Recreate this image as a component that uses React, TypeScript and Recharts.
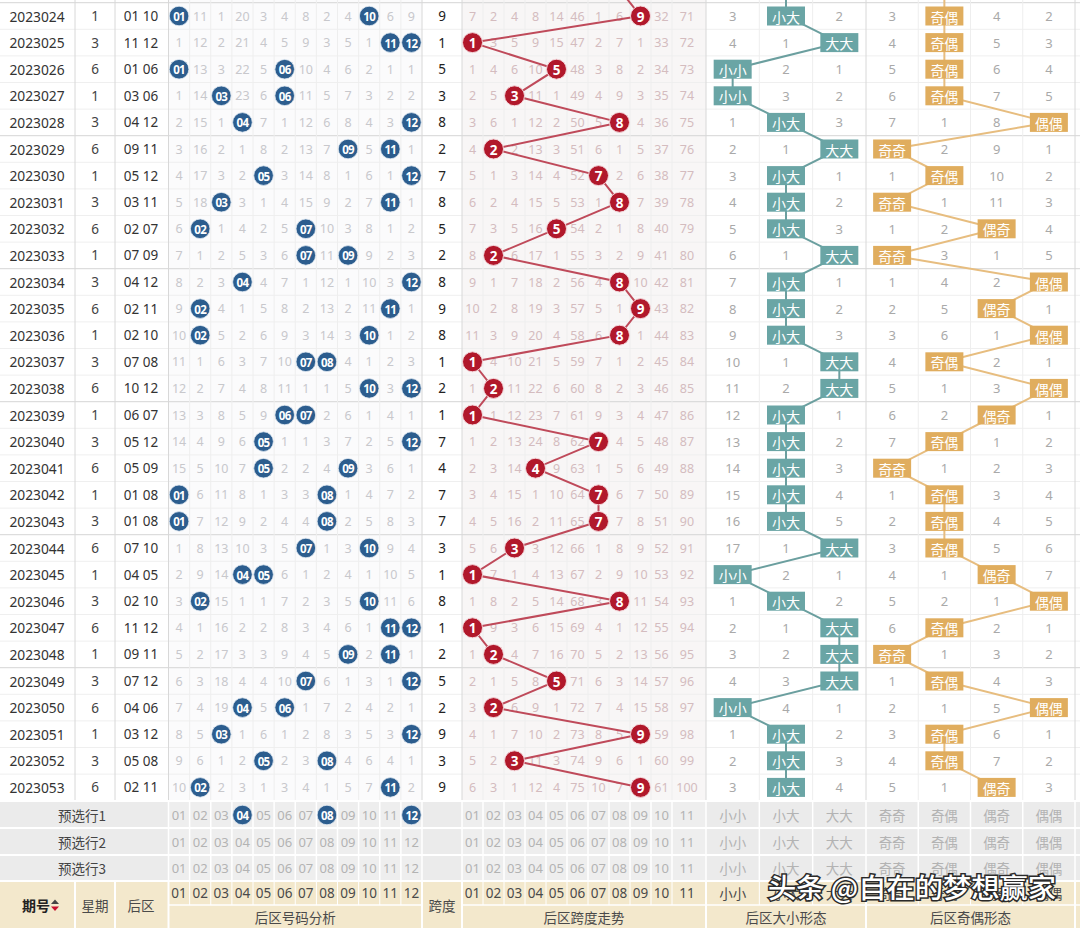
import React from 'react';
import { ScatterChart, Scatter, XAxis, YAxis, ReferenceArea, ReferenceLine } from 'recharts';

// ---------------- DATA ----------------
const periods = [
  '2023024', '2023025', '2023026', '2023027', '2023028', '2023029', '2023030', '2023031', '2023032', '2023033',
  '2023034', '2023035', '2023036', '2023037', '2023038', '2023039', '2023040', '2023041', '2023042', '2023043',
  '2023044', '2023045', '2023046', '2023047', '2023048', '2023049', '2023050', '2023051', '2023052', '2023053',
];
const weekdays = [1, 3, 6, 1, 3, 6, 1, 3, 6, 1, 3, 6, 1, 3, 6, 1, 3, 6, 1, 3, 6, 1, 3, 6, 1, 3, 6, 1, 3, 6];
const backNumbers = [
  [1, 10], [11, 12], [1, 6], [3, 6], [4, 12], [9, 11], [5, 12], [3, 11], [2, 7], [7, 9],
  [4, 12], [2, 11], [2, 10], [7, 8], [10, 12], [6, 7], [5, 12], [5, 9], [1, 8], [1, 8],
  [7, 10], [4, 5], [2, 10], [11, 12], [9, 11], [7, 12], [4, 6], [3, 12], [5, 8], [2, 11],
];
// missing counts per back number 01..12 (0 = drawn this period)
const numberMissing = [
  [0, 11, 1, 20, 3, 4, 8, 2, 4, 0, 6, 9],
  [1, 12, 2, 21, 4, 5, 9, 3, 5, 1, 0, 0],
  [0, 13, 3, 22, 5, 0, 10, 4, 6, 2, 1, 1],
  [1, 14, 0, 23, 6, 0, 11, 5, 7, 3, 2, 2],
  [2, 15, 1, 0, 7, 1, 12, 6, 8, 4, 3, 0],
  [3, 16, 2, 1, 8, 2, 13, 7, 0, 5, 0, 1],
  [4, 17, 3, 2, 0, 3, 14, 8, 1, 6, 1, 0],
  [5, 18, 0, 3, 1, 4, 15, 9, 2, 7, 0, 1],
  [6, 0, 1, 4, 2, 5, 0, 10, 3, 8, 1, 2],
  [7, 1, 2, 5, 3, 6, 0, 11, 0, 9, 2, 3],
  [8, 2, 3, 0, 4, 7, 1, 12, 1, 10, 3, 0],
  [9, 0, 4, 1, 5, 8, 2, 13, 2, 11, 0, 1],
  [10, 0, 5, 2, 6, 9, 3, 14, 3, 0, 1, 2],
  [11, 1, 6, 3, 7, 10, 0, 0, 4, 1, 2, 3],
  [12, 2, 7, 4, 8, 11, 1, 1, 5, 0, 3, 0],
  [13, 3, 8, 5, 9, 0, 0, 2, 6, 1, 4, 1],
  [14, 4, 9, 6, 0, 1, 1, 3, 7, 2, 5, 0],
  [15, 5, 10, 7, 0, 2, 2, 4, 0, 3, 6, 1],
  [0, 6, 11, 8, 1, 3, 3, 0, 1, 4, 7, 2],
  [0, 7, 12, 9, 2, 4, 4, 0, 2, 5, 8, 3],
  [1, 8, 13, 10, 3, 5, 0, 1, 3, 0, 9, 4],
  [2, 9, 14, 0, 0, 6, 1, 2, 4, 1, 10, 5],
  [3, 0, 15, 1, 1, 7, 2, 3, 5, 0, 11, 6],
  [4, 1, 16, 2, 2, 8, 3, 4, 6, 1, 0, 0],
  [5, 2, 17, 3, 3, 9, 4, 5, 0, 2, 0, 1],
  [6, 3, 18, 4, 4, 10, 0, 6, 1, 3, 1, 0],
  [7, 4, 19, 0, 5, 0, 1, 7, 2, 4, 2, 1],
  [8, 5, 0, 1, 6, 1, 2, 8, 3, 5, 3, 0],
  [9, 6, 1, 2, 0, 2, 3, 0, 4, 6, 4, 1],
  [10, 0, 2, 3, 1, 3, 4, 1, 5, 7, 0, 2],
];
const spans = [9, 1, 5, 3, 8, 2, 7, 8, 5, 2, 8, 9, 8, 1, 2, 1, 7, 4, 7, 7, 3, 1, 8, 1, 2, 5, 2, 9, 3, 9];
// missing counts per span value 1..11 (0 = this span)
const spanMissing = [
  [7, 2, 4, 8, 14, 46, 1, 6, 0, 32, 71],
  [0, 3, 5, 9, 15, 47, 2, 7, 1, 33, 72],
  [1, 4, 6, 10, 0, 48, 3, 8, 2, 34, 73],
  [2, 5, 0, 11, 1, 49, 4, 9, 3, 35, 74],
  [3, 6, 1, 12, 2, 50, 5, 0, 4, 36, 75],
  [4, 0, 2, 13, 3, 51, 6, 1, 5, 37, 76],
  [5, 1, 3, 14, 4, 52, 0, 2, 6, 38, 77],
  [6, 2, 4, 15, 5, 53, 1, 0, 7, 39, 78],
  [7, 3, 5, 16, 0, 54, 2, 1, 8, 40, 79],
  [8, 0, 6, 17, 1, 55, 3, 2, 9, 41, 80],
  [9, 1, 7, 18, 2, 56, 4, 0, 10, 42, 81],
  [10, 2, 8, 19, 3, 57, 5, 1, 0, 43, 82],
  [11, 3, 9, 20, 4, 58, 6, 0, 1, 44, 83],
  [0, 4, 10, 21, 5, 59, 7, 1, 2, 45, 84],
  [1, 0, 11, 22, 6, 60, 8, 2, 3, 46, 85],
  [0, 1, 12, 23, 7, 61, 9, 3, 4, 47, 86],
  [1, 2, 13, 24, 8, 62, 0, 4, 5, 48, 87],
  [2, 3, 14, 0, 9, 63, 1, 5, 6, 49, 88],
  [3, 4, 15, 1, 10, 64, 0, 6, 7, 50, 89],
  [4, 5, 16, 2, 11, 65, 0, 7, 8, 51, 90],
  [5, 6, 0, 3, 12, 66, 1, 8, 9, 52, 91],
  [0, 7, 1, 4, 13, 67, 2, 9, 10, 53, 92],
  [1, 8, 2, 5, 14, 68, 3, 0, 11, 54, 93],
  [0, 9, 3, 6, 15, 69, 4, 1, 12, 55, 94],
  [1, 0, 4, 7, 16, 70, 5, 2, 13, 56, 95],
  [2, 1, 5, 8, 0, 71, 6, 3, 14, 57, 96],
  [3, 0, 6, 9, 1, 72, 7, 4, 15, 58, 97],
  [4, 1, 7, 10, 2, 73, 8, 5, 0, 59, 98],
  [5, 2, 0, 11, 3, 74, 9, 6, 1, 60, 99],
  [6, 3, 1, 12, 4, 75, 10, 7, 0, 61, 100],
];
const sizeLabels = ['小小', '小大', '大大'];
const sizeMissing = [
  [3, 0, 2], [4, 1, 0], [0, 2, 1], [0, 3, 2], [1, 0, 3], [2, 1, 0], [3, 0, 1], [4, 0, 2], [5, 0, 3], [6, 1, 0],
  [7, 0, 1], [8, 0, 2], [9, 0, 3], [10, 1, 0], [11, 2, 0], [12, 0, 1], [13, 0, 2], [14, 0, 3], [15, 0, 4], [16, 0, 5],
  [17, 1, 0], [0, 2, 1], [1, 0, 2], [2, 1, 0], [3, 2, 0], [4, 3, 0], [0, 4, 1], [1, 0, 2], [2, 0, 3], [3, 0, 4],
];
const oddLabels = ['奇奇', '奇偶', '偶奇', '偶偶'];
const oddMissing = [
  [3, 0, 4, 2], [4, 0, 5, 3], [5, 0, 6, 4], [6, 0, 7, 5], [7, 1, 8, 0], [0, 2, 9, 1], [1, 0, 10, 2], [0, 1, 11, 3], [1, 2, 0, 4], [0, 3, 1, 5],
  [1, 4, 2, 0], [2, 5, 0, 1], [3, 6, 1, 0], [4, 0, 2, 1], [5, 1, 3, 0], [6, 2, 0, 1], [7, 0, 1, 2], [0, 1, 2, 3], [1, 0, 3, 4], [2, 0, 4, 5],
  [3, 0, 5, 6], [4, 1, 0, 7], [5, 2, 1, 0], [6, 0, 2, 1], [0, 1, 3, 2], [1, 0, 4, 3], [2, 1, 5, 0], [3, 0, 6, 1], [4, 0, 7, 2], [5, 1, 0, 3],
];
// the trend lines enter from the (cut off) previous period
const prevSpan = 8;
const prevSize = 1;
const prevOdd = 1;
const numberLabels = ['01', '02', '03', '04', '05', '06', '07', '08', '09', '10', '11', '12'];
const spanLabels = ['01', '02', '03', '04', '05', '06', '07', '08', '09', '10', '11'];
const preselectNames = ['预选行1', '预选行2', '预选行3'];
const preselectHits = [[4, 8, 12], [], []];
const fixedHeaders = ['期号', '星期', '后区', '跨度'];
const groupTitles = ['后区号码分析', '后区跨度走势', '后区大小形态', '后区奇偶形态'];
const watermark = '头条 @自在的梦想赢家';

// ---------------- LAYOUT ----------------
const W = 1080;
const H = 928;
const ROW_PX = 26.6;
const ROW0 = 16;
const ry = (px: number) => (px - ROW0) / ROW_PX;
const Y_DOMAIN: [number, number] = [ry(0), ry(H)];
const N = periods.length;

const X_PERIOD = 37;
const X_WEEK = 95;
const X_BACK = 141;
const X_SPAN = 442;
const X_PRE_LABEL = 82;
const MAIN_EDGES = [75, 115, 168.5, 422, 462, 706, 866, 1075];
const numEdge = (k: number) => 168.5 + 21.125 * k;
const numX = (j: number) => numEdge(j + 0.5);
const SPAN_EDGES = [462, 483, 504, 525, 546, 567, 588, 609, 630, 651, 672, 706];
const spanX = (j: number) => (SPAN_EDGES[j] + SPAN_EDGES[j + 1]) / 2 - (j === 10 ? 2 : 0);
const sizeEdge = (k: number) => 706 + (160 / 3) * k;
const sizeX = (j: number) => sizeEdge(j + 0.5);
const oddEdge = (k: number) => 866 + 52.25 * k;
const oddX = (j: number) => oddEdge(j + 0.5);

const DATA_BOT = N - 0.5;
const PRE_ROWS = [ry(815), ry(841.5), ry(868)];
const PRE_EDGES = [ry(801), ry(828), ry(855), ry(881)];
const HEAD_TOP = ry(881);
const HEAD_MID = ry(905);
const HEAD_BOT = ry(H);
const HEAD_ROW1 = ry(893);
const HEAD_ROW2 = ry(916.5);
const HEAD_MERGED = ry(905);

const NUM_FONT = "'Noto Sans', 'Noto Sans CJK SC', sans-serif";
const CJK_FONT = "'Noto Sans CJK SC', 'Noto Sans', sans-serif";

const pad = (n: number) => (n < 10 ? '0' + n : String(n));

// ---------------- POINTS ----------------
type Pt = { x: number; y: number; text?: string; hidden?: boolean };

const periodPts: Pt[] = periods.map((t, i) => ({ x: X_PERIOD, y: i, text: t }));
const weekPts: Pt[] = weekdays.map((w, i) => ({ x: X_WEEK, y: i, text: String(w) }));
const backPts: Pt[] = backNumbers.map((p, i) => ({ x: X_BACK, y: i, text: p.map(pad).join(' ') }));
const spanValPts: Pt[] = spans.map((s, i) => ({ x: X_SPAN, y: i, text: String(s) }));

const numMissPts: Pt[] = [];
const numHitPts: Pt[] = [];
numberMissing.forEach((row, i) =>
  row.forEach((v, j) => {
    if (v === 0) numHitPts.push({ x: numX(j), y: i, text: numberLabels[j] });
    else numMissPts.push({ x: numX(j), y: i, text: String(v) });
  }),
);
preselectHits.forEach((hits, r) =>
  hits.forEach((h) => numHitPts.push({ x: numX(h - 1), y: PRE_ROWS[r], text: numberLabels[h - 1] })),
);

const spanMissPts: Pt[] = [];
spanMissing.forEach((row, i) =>
  row.forEach((v, j) => {
    if (v !== 0) spanMissPts.push({ x: spanX(j), y: i, text: String(v) });
  }),
);
const spanBallPts: Pt[] = [
  { x: spanX(prevSpan - 1), y: -1, hidden: true },
  ...spans.map((s, i) => ({ x: spanX(s - 1), y: i, text: String(s) })),
];

const formMissPts: Pt[] = [];
sizeMissing.forEach((row, i) =>
  row.forEach((v, j) => {
    if (v !== 0) formMissPts.push({ x: sizeX(j), y: i, text: String(v) });
  }),
);
oddMissing.forEach((row, i) =>
  row.forEach((v, j) => {
    if (v !== 0) formMissPts.push({ x: oddX(j), y: i, text: String(v) });
  }),
);
const sizeBoxPts: Pt[] = [
  { x: sizeX(prevSize), y: -1, hidden: true },
  ...sizeMissing.map((row, i) => {
    const k = row.indexOf(0);
    return { x: sizeX(k), y: i, text: sizeLabels[k] };
  }),
];
const oddBoxPts: Pt[] = [
  { x: oddX(prevOdd), y: -1, hidden: true },
  ...oddMissing.map((row, i) => {
    const k = row.indexOf(0);
    return { x: oddX(k), y: i, text: oddLabels[k] };
  }),
];

// pre-selection rows and header
const preLabelPts: Pt[] = preselectNames.map((t, r) => ({ x: X_PRE_LABEL, y: PRE_ROWS[r], text: t }));
const preNumPts: Pt[] = [];
const preCjkPts: Pt[] = [];
PRE_ROWS.forEach((y, r) => {
  numberLabels.forEach((t, j) => {
    if (!preselectHits[r].includes(j + 1)) preNumPts.push({ x: numX(j), y, text: t });
  });
  spanLabels.forEach((t, j) => preNumPts.push({ x: spanX(j), y, text: t }));
  sizeLabels.forEach((t, j) => preCjkPts.push({ x: sizeX(j), y, text: t }));
  oddLabels.forEach((t, j) => preCjkPts.push({ x: oddX(j), y, text: t }));
});
const headNumPts: Pt[] = [
  ...numberLabels.map((t, j) => ({ x: numX(j), y: HEAD_ROW1, text: t })),
  ...spanLabels.map((t, j) => ({ x: spanX(j), y: HEAD_ROW1, text: t })),
];
const headCjkPts: Pt[] = [
  ...sizeLabels.map((t, j) => ({ x: sizeX(j), y: HEAD_ROW1, text: t })),
  ...oddLabels.map((t, j) => ({ x: oddX(j), y: HEAD_ROW1, text: t })),
  { x: (168.5 + 422) / 2, y: HEAD_ROW2, text: groupTitles[0] },
  { x: (462 + 706) / 2, y: HEAD_ROW2, text: groupTitles[1] },
  { x: (706 + 866) / 2, y: HEAD_ROW2, text: groupTitles[2] },
  { x: (866 + 1075) / 2, y: HEAD_ROW2, text: groupTitles[3] },
  { x: X_WEEK, y: HEAD_MERGED, text: fixedHeaders[1] },
  { x: X_BACK, y: HEAD_MERGED, text: fixedHeaders[2] },
  { x: X_SPAN, y: HEAD_MERGED, text: fixedHeaders[3] },
];
const headBoldPts: Pt[] = [{ x: 36, y: HEAD_MERGED, text: fixedHeaders[0] }];
const sortIconPts: Pt[] = [{ x: 55, y: HEAD_MERGED }];
const watermarkPts: Pt[] = [{ x: 912, y: ry(886), text: watermark }];

// ---------------- GRID ----------------
type Seg = { x1: number; y1: number; x2: number; y2: number; c: string; w: number };
const segs: Seg[] = [];
const yTopEdge = Y_DOMAIN[0];
for (let k = -1; k < N; k++) {
  const yb = k + 0.5;
  const major = k === -1 || (k + 1) % 5 === 0;
  segs.push({ x1: 0, x2: W, y1: yb, y2: yb, c: major ? '#d6d6d6' : '#efefef', w: 1 });
}
const minorX: number[] = [];
for (let k = 1; k < 12; k++) minorX.push(numEdge(k));
for (let k = 1; k < 11; k++) minorX.push(SPAN_EDGES[k]);
for (let k = 1; k < 3; k++) minorX.push(sizeEdge(k));
for (let k = 1; k < 4; k++) minorX.push(oddEdge(k));
minorX.forEach((x) => segs.push({ x1: x, x2: x, y1: yTopEdge, y2: DATA_BOT, c: '#eeeeee', w: 1 }));
MAIN_EDGES.forEach((x) => segs.push({ x1: x, x2: x, y1: yTopEdge, y2: DATA_BOT, c: '#d8d8d8', w: 1 }));
// preselect rows: white separators
PRE_EDGES.forEach((y) => segs.push({ x1: 0, x2: W, y1: y, y2: y, c: '#ffffff', w: 2 }));
[...minorX, 168.5, 422, 462, 706, 866, 1075].forEach((x) =>
  segs.push({ x1: x, x2: x, y1: PRE_EDGES[0], y2: PRE_EDGES[3], c: '#ffffff', w: 1.5 }),
);
// header separators
MAIN_EDGES.slice(0, 7).forEach((x) => segs.push({ x1: x, x2: x, y1: HEAD_TOP, y2: HEAD_BOT, c: '#ffffff', w: 2 }));
minorX.forEach((x) => segs.push({ x1: x, x2: x, y1: HEAD_TOP, y2: HEAD_MID, c: '#ffffff', w: 1 }));
segs.push({ x1: 168.5, x2: 422, y1: HEAD_MID, y2: HEAD_MID, c: '#ffffff', w: 1.5 });
segs.push({ x1: 462, x2: W, y1: HEAD_MID, y2: HEAD_MID, c: '#ffffff', w: 1.5 });
segs.push({ x1: 1075, x2: 1075, y1: HEAD_TOP, y2: HEAD_BOT, c: '#ffffff', w: 2 });

type Area = { x1: number; x2: number; y1: number; y2: number; fill: string };
const areas: Area[] = [
  { x1: 168.5, x2: 422, y1: yTopEdge, y2: DATA_BOT, fill: '#fbfbfc' },
  { x1: 462, x2: 706, y1: yTopEdge, y2: DATA_BOT, fill: '#f8f6f6' },
  { x1: 0, x2: W, y1: PRE_EDGES[0], y2: PRE_EDGES[3], fill: '#ebebeb' },
  { x1: 168.5, x2: 422, y1: PRE_EDGES[0], y2: PRE_EDGES[3], fill: '#eeeeee' },
  { x1: 462, x2: 706, y1: PRE_EDGES[0], y2: PRE_EDGES[3], fill: '#eeeeee' },
  { x1: 0, x2: W, y1: HEAD_TOP, y2: HEAD_BOT, fill: '#f3e8cc' },
];

// ---------------- SHAPES ----------------
const textShape =
  (fill: string, fontSize: number, fontWeight: number = 400, fontFamily: string = NUM_FONT) =>
  (props: any) => {
    const { cx, cy, payload } = props;
    if (cx == null || cy == null || !payload) return <g />;
    return (
      <text
        x={cx}
        y={cy}
        textAnchor="middle"
        dominantBaseline="central"
        fill={fill}
        fontSize={fontSize}
        fontWeight={fontWeight}
        fontFamily={fontFamily}
      >
        {payload.text}
      </text>
    );
  };

const blueBall = (props: any) => {
  const { cx, cy, payload } = props;
  return (
    <g>
      <circle cx={cx} cy={cy} r={9.8} fill="#2c5d8e" stroke="#dfe8f1" strokeWidth={0.8} />
      <text
        x={cx}
        y={cy + 0.5}
        textAnchor="middle"
        dominantBaseline="central"
        fill="#ffffff"
        fontSize={11.5}
        fontWeight={700}
        fontFamily={NUM_FONT}
        letterSpacing={-0.7}
      >
        {payload.text}
      </text>
    </g>
  );
};

const redBall = (props: any) => {
  const { cx, cy, payload } = props;
  if (!payload || payload.hidden) return <g />;
  return (
    <g>
      <circle cx={cx} cy={cy} r={10} fill="#b1182b" stroke="#f3d6da" strokeWidth={1} />
      <text
        x={cx}
        y={cy + 0.5}
        textAnchor="middle"
        dominantBaseline="central"
        fill="#ffffff"
        fontSize={13.5}
        fontWeight={700}
        fontFamily={NUM_FONT}
      >
        {payload.text}
      </text>
    </g>
  );
};

const boxShape = (fill: string) => (props: any) => {
  const { cx, cy, payload } = props;
  if (!payload || payload.hidden) return <g />;
  return (
    <g>
      <rect x={cx - 19} y={cy - 9.5} width={38} height={19} fill={fill} />
      <text
        x={cx}
        y={cy + 0.5}
        textAnchor="middle"
        dominantBaseline="central"
        fill="#ffffff"
        fontSize={14}
        fontFamily={CJK_FONT}
      >
        {payload.text}
      </text>
    </g>
  );
};

const sortIcon = (props: any) => {
  const { cx, cy } = props;
  return (
    <g>
      <path d={`M${cx - 4},${cy - 1} L${cx + 4},${cy - 1} L${cx},${cy - 5.5} Z`} fill="#444" />
      <path d={`M${cx - 4},${cy + 1.5} L${cx + 4},${cy + 1.5} L${cx},${cy + 6} Z`} fill="#c8102e" />
    </g>
  );
};

const watermarkShape = (props: any) => {
  const { cx, cy, payload } = props;
  return (
    <text
      x={cx}
      y={cy}
      textAnchor="middle"
      dominantBaseline="central"
      fill="#ffffff"
      stroke="#2a2a2a"
      strokeWidth={3}
      paintOrder="stroke"
      fontSize={27}
      fontWeight={500}
      fontFamily={CJK_FONT}
      textLength={288}
      lengthAdjust="spacingAndGlyphs"
    >
      {payload.text}
    </text>
  );
};

export default function App() {
  return (
    <div style={{ width: W, height: H, background: '#ffffff' }}>
      <style>{'body{margin:0;}'}</style>
      <ScatterChart width={W} height={H} margin={{ top: 0, right: 0, bottom: 0, left: 0 }}>
        <XAxis type="number" dataKey="x" domain={[0, W]} hide allowDataOverflow />
        <YAxis type="number" dataKey="y" domain={Y_DOMAIN} reversed hide allowDataOverflow />
        {areas.map((a, i) => (
          <ReferenceArea
            key={'a' + i}
            x1={a.x1}
            x2={a.x2}
            y1={a.y1}
            y2={a.y2}
            fill={a.fill}
            fillOpacity={1}
            stroke="none"
            ifOverflow="visible"
          />
        ))}
        {segs.map((s, i) => (
          <ReferenceLine
            key={'s' + i}
            segment={[
              { x: s.x1, y: s.y1 },
              { x: s.x2, y: s.y2 },
            ]}
            stroke={s.c}
            strokeWidth={s.w}
            ifOverflow="visible"
          />
        ))}
        <Scatter data={periodPts} shape={textShape('#333333', 13.8)} isAnimationActive={false} />
        <Scatter data={weekPts} shape={textShape('#444444', 13.5)} isAnimationActive={false} />
        <Scatter data={backPts} shape={textShape('#333333', 13.5)} isAnimationActive={false} />
        <Scatter data={spanValPts} shape={textShape('#222222', 13.5)} isAnimationActive={false} />
        <Scatter data={numMissPts} shape={textShape('#c8c8cc', 12.5)} isAnimationActive={false} />
        <Scatter data={spanMissPts} shape={textShape('#d4bcbf', 12.5)} isAnimationActive={false} />
        <Scatter data={formMissPts} shape={textShape('#a9a9a9', 13)} isAnimationActive={false} />
        <Scatter data={preLabelPts} shape={textShape('#444444', 13.5, 400, CJK_FONT)} isAnimationActive={false} />
        <Scatter data={preNumPts} shape={textShape('#b3b3b3', 13)} isAnimationActive={false} />
        <Scatter data={preCjkPts} shape={textShape('#b3b3b3', 13.5, 400, CJK_FONT)} isAnimationActive={false} />
        <Scatter data={headNumPts} shape={textShape('#4a4a4a', 13.5)} isAnimationActive={false} />
        <Scatter data={headCjkPts} shape={textShape('#4a4a4a', 13.5, 400, CJK_FONT)} isAnimationActive={false} />
        <Scatter data={headBoldPts} shape={textShape('#222222', 14, 700, CJK_FONT)} isAnimationActive={false} />
        <Scatter data={sortIconPts} shape={sortIcon} isAnimationActive={false} />
        <Scatter data={numHitPts} shape={blueBall} isAnimationActive={false} />
        <Scatter
          data={spanBallPts}
          shape={redBall}
          line={{ stroke: '#bf4a5a', strokeWidth: 2 }}
          lineType="joint"
          isAnimationActive={false}
        />
        <Scatter
          data={sizeBoxPts}
          shape={boxShape('#6aa5a5')}
          line={{ stroke: '#6b9f9f', strokeWidth: 2 }}
          lineType="joint"
          isAnimationActive={false}
        />
        <Scatter
          data={oddBoxPts}
          shape={boxShape('#e0ad5e')}
          line={{ stroke: '#e7bd7f', strokeWidth: 2 }}
          lineType="joint"
          isAnimationActive={false}
        />
        <Scatter data={watermarkPts} shape={watermarkShape} isAnimationActive={false} />
      </ScatterChart>
    </div>
  );
}
